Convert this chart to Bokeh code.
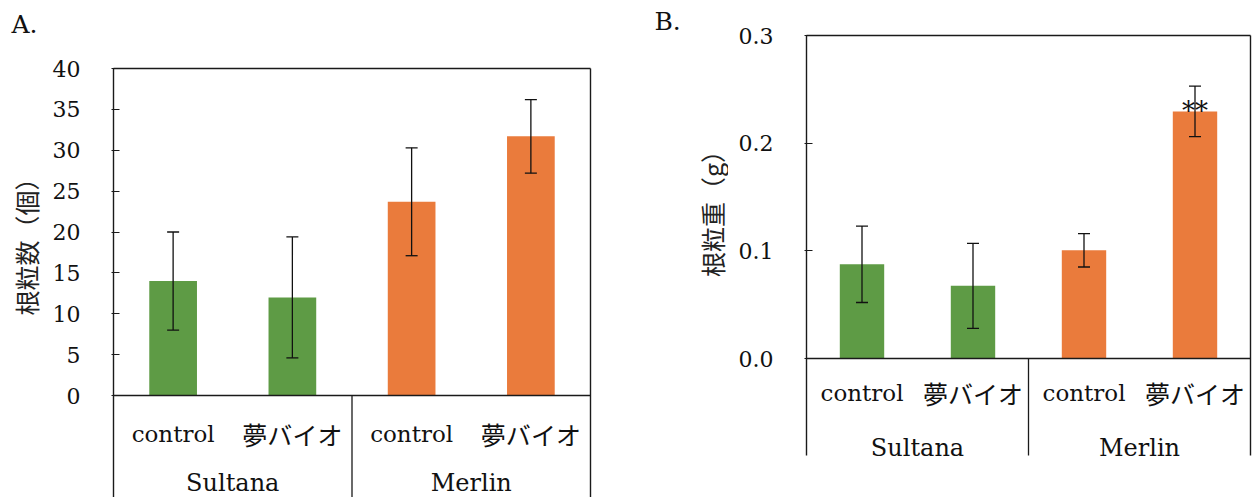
import math
from bokeh.plotting import figure
from bokeh.models import (Range1d, FixedTicker, Whisker, TeeHead, ColumnDataSource,
                          NumeralTickFormatter)
from bokeh.layouts import row
from bokeh.core.properties import value
from bokeh.embed import file_html
from bokeh.resources import INLINE

# ---------------- data ----------------
varieties = ["Sultana", "Merlin"]
treatments = ["control", "夢バイオ"]

nodule_count = [14.0, 12.0, 23.7, 31.7]
nodule_count_err = [6.0, 7.4, 6.6, 4.5]
count_ticks = [0, 5, 10, 15, 20, 25, 30, 35, 40]

nodule_weight = [0.0875, 0.0675, 0.1005, 0.2295]
nodule_weight_err = [0.0355, 0.0395, 0.0155, 0.0235]
weight_ticks = [0.0, 0.1, 0.2, 0.3]
weight_marks = ["", "", "", "**"]

GREEN = "#5E9B45"
ORANGE = "#EA7B3C"
LINE = "#1a1a1a"
SERIF = "DejaVu Serif"
CJK = "Noto Sans CJK JP"
H = 497


def base_fig(width, x_range, y_range, left=0, right=0):
    p = figure(width=width, height=H, output_backend="svg", toolbar_location=None,
               x_range=x_range, y_range=y_range, x_axis_location=None,
               min_border_left=left, min_border_right=right,
               min_border_top=0, min_border_bottom=0)
    p.outline_line_color = None
    p.grid.visible = False
    p.background_fill_color = "white"
    p.border_fill_color = "white"
    return p


def make_panel(letter, ylabel, vals, errs, ticks, fmt, marks,
               lab_w, main_w, axis_w, right_border,
               zero_px, top_px, table_bottom_px, x0_px, x1_px,
               row1_px, row2_px, letter_x, letter_c_px, ylabel_x, ylabel_c_px):
    n = len(varieties) * len(treatments)
    ymax = ticks[-1]
    ppu = (zero_px - top_px) / ymax

    def yd(px):
        return (zero_px - px) / ppu

    pxu = (x1_px - x0_px) / n
    pad = 2 / pxu
    yr = Range1d(yd(H), yd(0))
    p = base_fig(main_w, Range1d(-pad, n + pad), yr, left=axis_w, right=right_border)

    ax = p.yaxis[0]
    ax.ticker = FixedTicker(ticks=ticks)
    ax.formatter = NumeralTickFormatter(format=fmt)
    ax.major_tick_in = 8
    ax.major_tick_out = 0
    ax.minor_tick_line_color = None
    ax.axis_line_color = None
    ax.major_tick_line_color = LINE
    ax.major_tick_line_width = 1.2
    ax.major_label_text_font = SERIF
    ax.major_label_text_font_size = "22px"
    ax.major_label_text_color = "#111111"
    ax.major_label_standoff = 31

    xs = [i + 0.5 for i in range(n)]
    colors = [GREEN] * len(treatments) + [ORANGE] * len(treatments)
    trt = treatments * len(varieties)
    src = ColumnDataSource(dict(
        x=xs, top=vals, upper=[v + e for v, e in zip(vals, errs)],
        lower=[v - e for v, e in zip(vals, errs)], color=colors, trt=trt,
        font=[SERIF if t == "control" else CJK for t in trt],
        size=["23px" if t == "control" else "25px" for t in trt],
        mark=marks,
    ))
    p.vbar(x="x", top="top", width=0.4, bottom=0, fill_color="color",
           line_color=None, source=src)

    # significance marks
    p.text(x="x", y="top", text="mark", source=src, text_align="center",
           text_baseline="middle", text_font=value(SERIF), text_font_size="26px",
           text_color="#111111")

    w = Whisker(source=src, base="x", upper="upper", lower="lower",
                dimension="height", line_color="#111111", line_width=1.3,
                upper_head=TeeHead(size=12, line_width=1.3, line_color="#111111"),
                lower_head=TeeHead(size=12, line_width=1.3, line_color="#111111"))
    w.level = "overlay"
    p.add_layout(w)

    # frame and category-table lines
    tb = yd(table_bottom_px)
    gx = [len(treatments) * (k + 1) for k in range(len(varieties) - 1)]
    vx = [0] + [n]
    p.segment(x0=vx, y0=[tb] * len(vx), x1=vx, y1=[ymax] * len(vx),
              line_color=LINE, line_width=1.4)
    p.segment(x0=[0, 0], y0=[ymax, 0], x1=[n, n], y1=[ymax, 0],
              line_color=LINE, line_width=1.5)
    p.segment(x0=gx, y0=[0] * len(gx), x1=gx, y1=[tb] * len(gx),
              line_color=LINE, line_width=1.3)

    # category table texts
    p.text(x="x", y=yd(zero_px + row1_px), text="trt", source=src, text_align="center",
           text_baseline="middle", text_font="font", text_font_size="size",
           text_color="#111111")
    gxs = [len(treatments) * k + len(treatments) / 2 for k in range(len(varieties))]
    p.text(x=gxs, y=[yd(zero_px + row2_px)] * len(gxs), text=varieties,
           text_align="center", text_baseline="middle", text_font=value(SERIF),
           text_font_size="24px", text_color="#111111")

    # side strip with panel letter and y-axis title (shares the y scale)
    s = base_fig(lab_w, Range1d(0, lab_w), yr)
    s.yaxis.visible = False
    s.text(x=[letter_x], y=[yd(letter_c_px)], text=[letter + "."],
           text_align="left", text_baseline="middle", text_font=value(SERIF),
           text_font_size="25px", text_color="#111111")
    s.text(x=[ylabel_x], y=[yd(ylabel_c_px)], text=[ylabel], angle=math.pi / 2,
           text_align="center", text_baseline="middle", text_font=value(CJK),
           text_font_size="25px", text_color="#222222")
    return s, p


sA, pA = make_panel("A", "根粒数（個）", nodule_count, nodule_count_err, count_ticks, "0",
                    ["", "", "", ""],
                    lab_w=43, main_w=597, axis_w=68, right_border=48,
                    zero_px=395, top_px=68, table_bottom_px=H, x0_px=113, x1_px=590,
                    row1_px=38, row2_px=87, letter_x=11, letter_c_px=24,
                    ylabel_x=25, ylabel_c_px=240)
sB, pB = make_panel("B", "根粒重（g）", nodule_weight, nodule_weight_err, weight_ticks, "0.0",
                    weight_marks,
                    lab_w=88, main_w=527, axis_w=76, right_border=3,
                    zero_px=358, top_px=35, table_bottom_px=455, x0_px=806, x1_px=1250,
                    row1_px=34, row2_px=89, letter_x=14, letter_c_px=21,
                    ylabel_x=71, ylabel_c_px=207)

layout = row(sA, pA, sB, pB)
open("out.html", "w").write(file_html(layout, INLINE))
